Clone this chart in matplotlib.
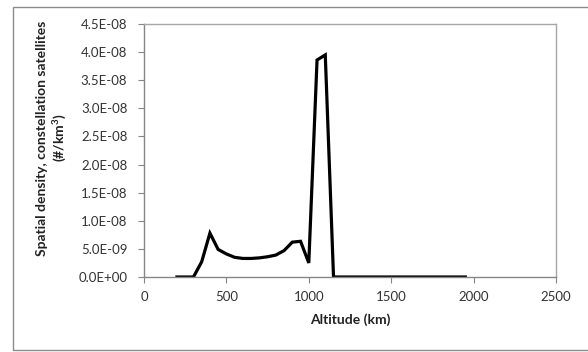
import matplotlib
matplotlib.use("Agg")
import matplotlib.pyplot as plt
from matplotlib.ticker import FuncFormatter, MultipleLocator
from matplotlib.patches import Rectangle

altitude = [200, 250, 300, 350, 400, 450, 500, 550, 600, 650, 700, 750, 800, 850,
            900, 950, 1000, 1050, 1100, 1150, 1200, 1250, 1300, 1350, 1400, 1450,
            1500, 1550, 1600, 1650, 1700, 1750, 1800, 1850, 1900, 1950]
density = [0, 0, 0, 2.7e-9, 7.8e-9, 4.9e-9, 4.1e-9, 3.5e-9, 3.3e-9, 3.3e-9, 3.4e-9,
           3.6e-9, 3.9e-9, 4.7e-9, 6.2e-9, 6.35e-9, 2.5e-9, 3.86e-8, 3.95e-8,
           0, 0, 0, 0, 0, 0, 0, 0, 0, 0, 0, 0, 0, 0, 0, 0, 0]

plt.rcParams['font.family'] = ['Lato', 'DejaVu Sans']

fig = plt.figure(figsize=(5.88, 3.52), dpi=100)
fig.patches.append(Rectangle((13/588, 1-350/352), 1.2, (350-7)/352, transform=fig.transFigure,
                             fill=False, edgecolor='#8c8c8c', linewidth=1.0))
ax = fig.add_axes([144/588, 1-277/352, (556-144)/588, (277-24)/352])

ax.plot(altitude, density, color='black', linewidth=2.3, solid_joinstyle='miter')
ax.set_xlim(0, 2500)
ax.set_ylim(0, 4.5e-8)
ax.xaxis.set_major_locator(MultipleLocator(500))
ax.yaxis.set_major_locator(MultipleLocator(5e-9))
ax.yaxis.set_major_formatter(FuncFormatter(lambda v, p: f"{v:.1E}"))

for s in ax.spines.values():
    s.set_color('#a6a6a6')
    s.set_linewidth(1.0)
ax.spines['left'].set_color('#868686')
ax.spines['bottom'].set_color('#868686')
ax.tick_params(axis='both', direction='out', length=4, width=0.8, color='#868686',
               labelsize=9.5, labelcolor='#333333')
ax.tick_params(axis='y', pad=8)
ax.tick_params(axis='x', pad=6)

ax.set_xlabel('Altitude (km)', fontsize=10, fontweight='bold', color='#222222')
ax.xaxis.set_label_coords(0.5, (277-313)/253, transform=ax.transAxes)
ax.set_ylabel('Spatial density, constellation satellites\n(#/km$^\\mathregular{3}$)', fontsize=10,
              fontweight='bold', color='#222222', linespacing=1.1, va='center')
ax.yaxis.set_label_coords((52-144)/412, (277-138)/253, transform=ax.transAxes)

fig.savefig('out.png', dpi=100)
